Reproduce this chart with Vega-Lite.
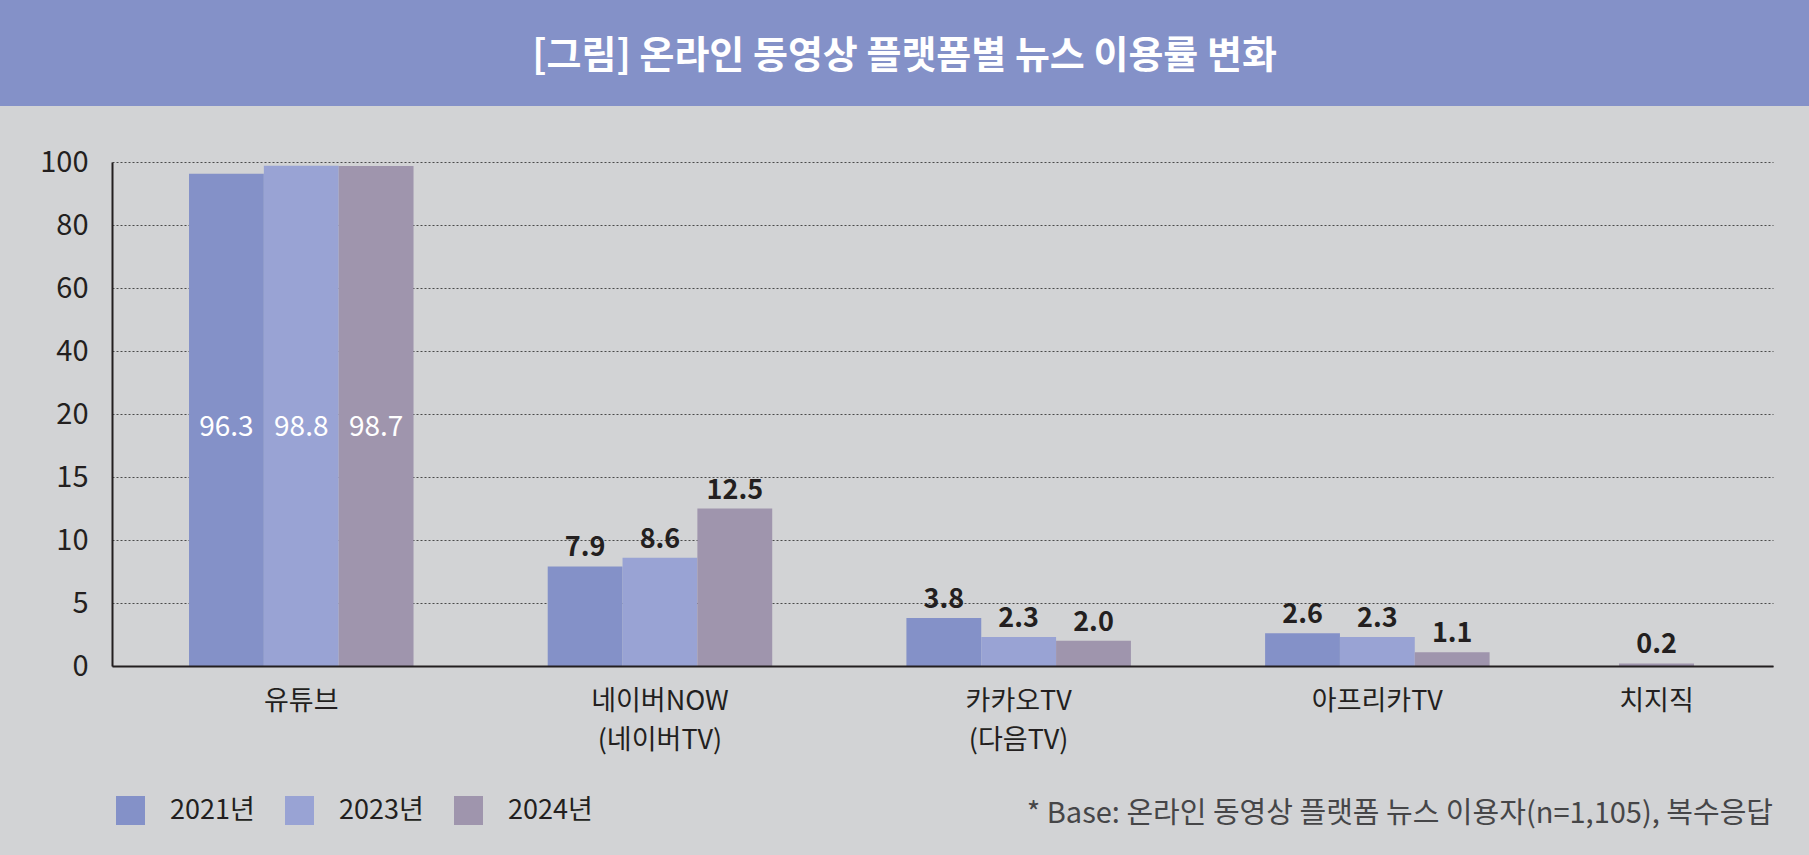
{
  "$schema": "https://vega.github.io/schema/vega-lite/v6.json",
  "background": "#d2d3d5",
  "padding": {"left": 0, "top": 0, "right": 0, "bottom": 28},
  "spacing": 42,
  "config": {"font": "Noto Sans CJK KR", "view": {"stroke": null}},
  "vconcat": [
    {
      "width": 1809,
      "height": 106,
      "view": {"fill": "#8491c8", "stroke": null},
      "data": {"values": [{"제목": "[그림] 온라인 동영상 플랫폼별 뉴스 이용률 변화"}]},
      "mark": {"type": "text", "fontSize": 38, "fontWeight": "bold", "color": "white", "dy": 4},
      "encoding": {"text": {"field": "제목"}}
    },
    {
      "spacing": 0,
      "hconcat": [
        {
          "width": 1,
          "height": 504,
          "data": {"values": [{}]},
          "mark": {"type": "point", "opacity": 0, "size": 0, "strokeWidth": 0},
          "encoding": {}
        },
        {
          "width": 1661,
          "height": 504,
          "data": {
            "values": [
              {"플랫폼": "유튜브", "연도": "2021년", "이용률": 96.3},
              {"플랫폼": "유튜브", "연도": "2023년", "이용률": 98.8},
              {"플랫폼": "유튜브", "연도": "2024년", "이용률": 98.7},
              {"플랫폼": "네이버NOW (네이버TV)", "연도": "2021년", "이용률": 7.9},
              {"플랫폼": "네이버NOW (네이버TV)", "연도": "2023년", "이용률": 8.6},
              {"플랫폼": "네이버NOW (네이버TV)", "연도": "2024년", "이용률": 12.5},
              {"플랫폼": "카카오TV (다음TV)", "연도": "2021년", "이용률": 3.8},
              {"플랫폼": "카카오TV (다음TV)", "연도": "2023년", "이용률": 2.3},
              {"플랫폼": "카카오TV (다음TV)", "연도": "2024년", "이용률": 2.0},
              {"플랫폼": "아프리카TV", "연도": "2021년", "이용률": 2.6},
              {"플랫폼": "아프리카TV", "연도": "2023년", "이용률": 2.3},
              {"플랫폼": "아프리카TV", "연도": "2024년", "이용률": 1.1},
              {"플랫폼": "치지직", "연도": "2024년", "이용률": 0.2}
            ]
          },
          "title": {
            "text": "* Base: 온라인 동영상 플랫폼 뉴스 이용자(n=1,105), 복수응답",
            "orient": "bottom",
            "anchor": "end",
            "offset": 47,
            "fontSize": 29,
            "fontWeight": "normal",
            "color": "#464648"
          },
          "encoding": {
            "y": {
              "field": "이용률",
              "type": "quantitative",
              "scale": {"domain": [0, 20, 100], "range": [504, 252, 0], "nice": false, "zero": false},
              "axis": {
                "title": null,
                "values": [0, 5, 10, 15, 20, 40, 60, 80, 100],
                "domainColor": "#231f20",
                "domainWidth": 2,
                "ticks": false,
                "labelFontSize": 29,
                "labelColor": "#231f20",
                "labelPadding": 24,
                "grid": true,
                "gridColor": "#4a4a4a",
                "gridDash": [2, 2],
                "gridWidth": 1,
                "minExtent": 111
              }
            }
          },
          "layer": [
            {
              "transform": [{"filter": "datum['플랫폼'] !== '치지직'"}],
              "encoding": {
                "x": {
                  "field": "플랫폼",
                  "type": "nominal",
                  "sort": ["유튜브", "네이버NOW (네이버TV)", "카카오TV (다음TV)", "아프리카TV"],
                  "scale": {"paddingInner": 0.3741, "paddingOuter": 0.5024, "align": 0.2137},
                  "axis": {
                    "title": null,
                    "orient": "bottom",
                    "domainColor": "#231f20",
                    "domainWidth": 2,
                    "ticks": false,
                    "labelAngle": 0,
                    "labelFontSize": 27,
                    "labelColor": "#231f20",
                    "labelPadding": 22,
                    "labelLineHeight": 39,
                    "labelExpr": "split(datum.label, ' ')",
                    "zindex": 1
                  }
                },
                "xOffset": {"field": "연도", "type": "nominal", "scale": {"paddingInner": 0, "paddingOuter": 0}}
              },
              "layer": [
                {
                  "mark": "bar",
                  "encoding": {
                    "color": {
                      "field": "연도",
                      "type": "nominal",
                      "scale": {"domain": ["2021년", "2023년", "2024년"], "range": ["#8491c8", "#99a3d4", "#9f95ad"]},
                      "legend": {
                        "orient": "none",
                        "legendX": 116,
                        "legendY": 796,
                        "direction": "horizontal",
                        "title": null,
                        "padding": 0,
                        "symbolType": "square",
                        "symbolSize": 841,
                        "symbolStrokeWidth": 0,
                        "symbolOpacity": 1,
                        "labelFontSize": 27,
                        "labelColor": "#231f20",
                        "labelOffset": 25,
                        "columnPadding": 30
                      }
                    }
                  }
                },
                {
                  "transform": [{"filter": "datum['이용률'] < 50"}],
                  "mark": {"type": "text", "fontSize": 27, "fontWeight": "bold", "color": "#231f20", "baseline": "alphabetic", "dy": -10},
                  "encoding": {"text": {"field": "이용률", "type": "quantitative", "format": ".1f"}}
                },
                {
                  "transform": [{"filter": "datum['이용률'] >= 50"}],
                  "mark": {"type": "text", "fontSize": 28, "color": "white", "baseline": "middle"},
                  "encoding": {
                    "y": {"datum": 18.9},
                    "text": {"field": "이용률", "type": "quantitative", "format": ".1f"}
                  }
                }
              ]
            },
            {
              "transform": [{"filter": "datum['플랫폼'] === '치지직'"}],
              "encoding": {
                "x": {
                  "field": "플랫폼",
                  "type": "nominal",
                  "scale": {"paddingInner": 0.90542, "paddingOuter": 1, "align": 0.9502},
                  "axis": {
                    "title": null,
                    "orient": "bottom",
                    "domain": false,
                    "ticks": false,
                    "labelAngle": 0,
                    "labelFontSize": 27,
                    "labelColor": "#231f20",
                    "labelPadding": 22,
                    "zindex": 1
                  }
                }
              },
              "layer": [
                {
                  "mark": "bar",
                  "encoding": {
                    "color": {
                      "field": "연도",
                      "type": "nominal",
                      "scale": {"domain": ["2021년", "2023년", "2024년"], "range": ["#8491c8", "#99a3d4", "#9f95ad"]}
                    }
                  }
                },
                {
                  "mark": {"type": "text", "fontSize": 27, "fontWeight": "bold", "color": "#231f20", "baseline": "alphabetic", "dy": -10},
                  "encoding": {"text": {"field": "이용률", "type": "quantitative", "format": ".1f"}}
                }
              ]
            }
          ],
          "resolve": {"scale": {"x": "independent"}, "axis": {"x": "independent"}}
        }
      ]
    }
  ]
}
